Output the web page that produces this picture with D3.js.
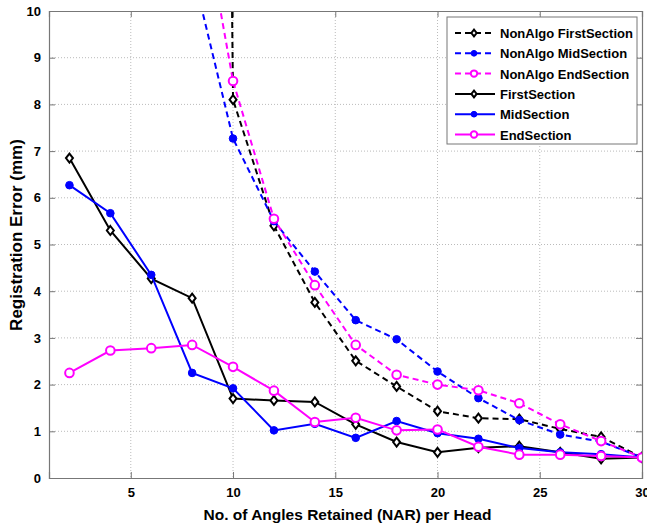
<!DOCTYPE html>
<html>
<head>
<meta charset="utf-8">
<script src="https://cdn.jsdelivr.net/npm/d3@7"></script>
<style>
  body { margin: 0; background: #fff; }
  text { font-family: "Liberation Sans", Arial, sans-serif; }
</style>
</head>
<body>
<div id="chart"></div>
<script>
// data
var nar = [2, 4, 6, 8, 10, 12, 14, 16, 18, 20, 22, 24, 26, 28, 30];
var xTicks = [5, 10, 15, 20, 25, 30];
var yTicks = [0, 1, 2, 3, 4, 5, 6, 7, 8, 9, 10];

var nonAlgoFirst = [90, 90, 90, 90, 8.1, 5.4, 3.76, 2.51, 1.96, 1.43, 1.28, 1.26, 1.05, 0.88, 0.44];
var nonAlgoMid   = [20, 16, 13, 10.9, 7.27, 5.5, 4.42, 3.38, 2.97, 2.28, 1.71, 1.24, 0.93, 0.78, 0.44];
var nonAlgoEnd   = [25, 20, 16, 13.4, 8.5, 5.55, 4.13, 2.85, 2.21, 2.0, 1.88, 1.6, 1.15, 0.79, 0.44];
var firstSection = [6.85, 5.3, 4.27, 3.85, 1.7, 1.66, 1.63, 1.15, 0.77, 0.55, 0.65, 0.68, 0.55, 0.41, 0.44];
var midSection   = [6.27, 5.67, 4.35, 2.25, 1.92, 1.02, 1.16, 0.86, 1.22, 0.96, 0.84, 0.64, 0.55, 0.51, 0.44];
var endSection   = [2.25, 2.73, 2.78, 2.85, 2.38, 1.87, 1.2, 1.29, 1.02, 1.04, 0.67, 0.5, 0.5, 0.47, 0.44];

var series = [
  { name: "NonAlgo FirstSection", values: nonAlgoFirst, color: "#000000", dash: "6,4", marker: "diamond" },
  { name: "NonAlgo MidSection", values: nonAlgoMid, color: "#0000ff", dash: "6,4", marker: "dot" },
  { name: "NonAlgo EndSection", values: nonAlgoEnd, color: "#ff00ff", dash: "6,4", marker: "circle" },
  { name: "FirstSection", values: firstSection, color: "#000000", dash: null, marker: "diamond" },
  { name: "MidSection", values: midSection, color: "#0000ff", dash: null, marker: "dot" },
  { name: "EndSection", values: endSection, color: "#ff00ff", dash: null, marker: "circle" }
];

// initial setup
var svgWidth = 647;
var svgHeight = 525;
var margin = { top: 11, right: 5, bottom: 47, left: 49 };
var width = svgWidth - margin.left - margin.right;
var height = svgHeight - margin.top - margin.bottom;

var svg = d3.select("#chart")
  .append("svg")
  .attr("width", svgWidth)
  .attr("height", svgHeight);

svg.append("defs").append("clipPath")
  .attr("id", "plotClip")
  .append("rect")
  .attr("width", width)
  .attr("height", height);

var chartGroup = svg.append("g")
  .attr("transform", `translate(${margin.left}, ${margin.top})`);

// scales
var x = d3.scaleLinear().domain([1, 30]).range([0, width]);
var y = d3.scaleLinear().domain([0, 10]).range([height, 0]);

// grid
chartGroup.append("g").selectAll("line")
  .data(xTicks.slice(0, -1))
  .enter().append("line")
  .attr("x1", d => x(d)).attr("x2", d => x(d))
  .attr("y1", 0).attr("y2", height)
  .attr("stroke", "#bbb").attr("stroke-dasharray", "1,2");

chartGroup.append("g").selectAll("line")
  .data(yTicks.slice(1, -1))
  .enter().append("line")
  .attr("x1", 0).attr("x2", width)
  .attr("y1", d => y(d)).attr("y2", d => y(d))
  .attr("stroke", "#bbb").attr("stroke-dasharray", "1,2");

// axes
var bottomAxis = d3.axisBottom(x).tickValues(xTicks).tickSize(-6).tickPadding(10);
var leftAxis = d3.axisLeft(y).tickValues(yTicks).tickSize(-6).tickPadding(8);
var topAxis = d3.axisTop(x).tickValues(xTicks).tickSize(-6).tickFormat("");
var rightAxis = d3.axisRight(y).tickValues(yTicks).tickSize(-6).tickFormat("");

function styleAxis(g) {
  g.select(".domain").attr("stroke", "#777").attr("stroke-width", 1.2);
  g.selectAll(".tick line").attr("stroke", "#777");
  g.selectAll(".tick text")
    .attr("fill", "#000")
    .attr("font-size", 13)
    .attr("font-weight", "bold");
}

chartGroup.append("g").attr("transform", `translate(0, ${height})`).call(bottomAxis).call(styleAxis);
chartGroup.append("g").call(leftAxis).call(styleAxis);
chartGroup.append("g").call(topAxis).call(styleAxis);
chartGroup.append("g").attr("transform", `translate(${width}, 0)`).call(rightAxis).call(styleAxis);

// lines + markers
var line = d3.line()
  .x((d, i) => x(nar[i]))
  .y(d => y(d));

var plot = chartGroup.append("g").attr("clip-path", "url(#plotClip)");

function drawMarker(g, type, color, k) {
  if (type === "diamond") {
    g.append("path")
      .attr("d", `M0,${-4.5 * k}L${3.5 * k},0L0,${4.5 * k}L${-3.5 * k},0Z`)
      .attr("fill", "#fff").attr("stroke", color).attr("stroke-width", 2);
  } else if (type === "dot") {
    g.append("circle").attr("r", 3.8 * k).attr("fill", color).attr("stroke", color);
  } else {
    g.append("circle").attr("r", 4.3 * k)
      .attr("fill", "#fff").attr("stroke", color).attr("stroke-width", 2);
  }
}

series.forEach(function (s) {
  plot.append("path")
    .datum(s.values)
    .attr("d", line)
    .attr("fill", "none")
    .attr("stroke", s.color)
    .attr("stroke-width", 2)
    .attr("stroke-dasharray", s.dash);

  s.values.forEach(function (v, i) {
    if (v > 10) return;
    var g = plot.append("g").attr("transform", `translate(${x(nar[i])}, ${y(v)})`);
    drawMarker(g, s.marker, s.color, 1);
  });
});

// legend
var legend = chartGroup.append("g").attr("transform", "translate(398, 6)");
legend.append("rect")
  .attr("width", 190).attr("height", 127)
  .attr("fill", "#fff").attr("stroke", "#777").attr("stroke-width", 1);

series.forEach(function (s, i) {
  var row = legend.append("g").attr("transform", `translate(0, ${16 + i * 20.3})`);
  row.append("line")
    .attr("x1", 8).attr("x2", 48)
    .attr("stroke", s.color).attr("stroke-width", 2)
    .attr("stroke-dasharray", s.dash);
  var m = row.append("g").attr("transform", "translate(27, 0)");
  drawMarker(m, s.marker, s.color, 0.75);
  row.append("text")
    .attr("x", 53).attr("y", 5)
    .attr("font-size", 13)
    .attr("font-weight", "bold")
    .text(s.name);
});

// axes labels
chartGroup.append("text")
  .attr("transform", "rotate(-90)")
  .attr("x", 0 - (235 - margin.top))
  .attr("y", 0 - margin.left + 22)
  .attr("text-anchor", "middle")
  .attr("font-size", 17)
  .attr("font-weight", "bold")
  .text("Registration Error (mm)");

chartGroup.append("text")
  .attr("transform", `translate(${width / 2 + 2}, ${height + 42})`)
  .attr("text-anchor", "middle")
  .attr("font-size", 15.5)
  .attr("font-weight", "bold")
  .text("No. of Angles Retained (NAR) per Head");
</script>
</body>
</html>
